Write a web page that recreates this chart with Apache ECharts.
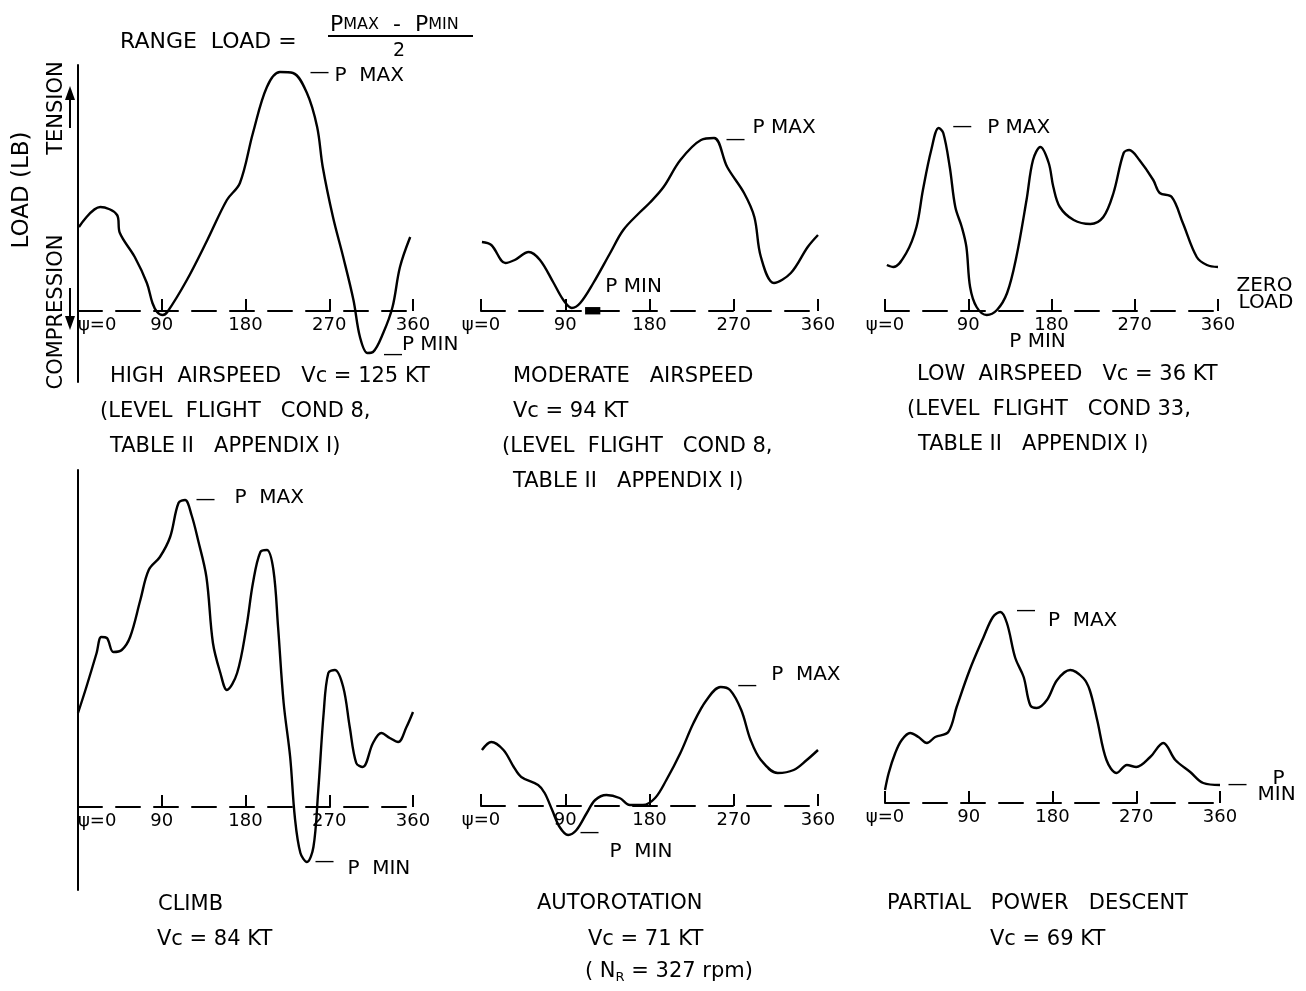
<!DOCTYPE html>
<html>
<head>
<meta charset="utf-8">
<script src="https://cdn.jsdelivr.net/npm/echarts@6/dist/echarts.min.js"></script>
<style>
html,body{margin:0;padding:0;background:#fff;}
#c{width:1306px;height:991px;}
</style>
</head>
<body>
<div id="c"></div>
<script>
// ---- data: azimuth angle psi (deg) and load (arbitrary units) ----
const tickLabels = ['ψ=0', '90', '180', '270', '360'];

const angHigh = [1,24,42,45,61,74,80,85,91,96,117,139,160,174,188,203,217,231,246,257,263,274,285,296,303,311,317,328,338,346,357];
const loadHigh = [84,104,96,78,54,28,8,-1,-4,-1,31,71,111,128,178,224,239,238,218,184,144,94,54,11,-26,-42,-41,-22,4,44,74];

const angMod = [1,11,26,36,51,63,77,88,97,106,120,138,152,170,180,195,213,235,249,263,281,292,299,313,331,349,360];
const loadMod = [69,66,48,51,59,51,29,11,3,8,28,58,81,99,108,124,151,171,173,144,118,94,54,28,38,64,76];

const angLow = [2,9,23,34,41,50,58,63,70,76,83,88,92,99,110,121,132,142,153,160,168,177,182,189,204,222,236,247,258,264,275,290,297,310,322,337,348,360];
const loadLow = [46,44,58,84,121,161,183,178,144,104,84,64,24,4,-4,1,18,54,111,151,164,148,124,104,91,87,94,118,158,161,151,131,118,114,88,54,46,44];

const angClimb = [0,9,20,25,31,38,47,56,67,76,88,99,108,115,122,129,138,145,153,160,171,181,188,196,203,210,215,221,228,233,239,246,253,258,264,269,276,285,292,299,306,317,326,335,344,353,360];
const loadClimb = [94,120,154,170,169,155,157,170,207,237,250,270,304,307,292,267,230,164,134,117,134,180,224,255,257,237,180,104,50,-10,-46,-55,-40,14,94,134,137,120,80,44,40,64,74,69,65,80,95];

const angAuto = [1,11,24,35,43,61,68,76,84,93,102,113,122,134,148,159,173,186,198,213,227,241,256,266,278,288,299,317,334,348,360];
const loadAuto = [56,64,56,39,29,21,13,-4,-21,-29,-24,-7,6,11,8,1,1,8,26,53,83,106,119,116,96,66,46,33,36,46,56];

const angDesc = [0,4,11,18,27,36,45,54,68,77,91,106,116,124,131,140,149,156,163,174,185,199,213,220,228,238,249,260,270,285,299,312,328,342,360];
const loadDesc = [13,30,50,63,70,66,60,66,71,96,133,166,186,191,180,145,126,98,95,103,123,133,125,113,83,43,30,38,36,46,60,43,31,20,18];

// ---- layout ----
const FONT = 'DejaVu Sans';
const panels = [
  {ang: angHigh, load: loadHigh, left: 78, width: 335, top: 65, height: 317, min: -71, max: 246, yLine: true,
   notes: [['max','—',30,1],['max','P  MAX',55,4],['min','—',16,2],['min','P MIN',35,-8]]},
  {ang: angMod, load: loadMod, left: 481, width: 337, top: 65, height: 317, min: -71, max: 246, yLine: false,
   notes: [['max','—',12,2],['max','P MAX',39,-10],['min','▬',12,3],['min','P MIN',34,-21]]},
  {ang: angLow, load: loadLow, left: 885, width: 333, top: 65, height: 317, min: -71, max: 246, yLine: false,
   notes: [['max','—',14,-1],['max','P MAX',49,0],['min','P MIN',23,27],['zero','ZERO',19,-25],['zero','LOAD',21,-8]]},
  {ang: angClimb, load: loadClimb, left: 78, width: 335, top: 470, height: 420, min: -83, max: 337, yLine: true,
   notes: [['max','—',11,0],['max','P  MAX',50,-2],['min','—',8,0],['min','P  MIN',41,7]]},
  {ang: angAuto, load: loadAuto, left: 481, width: 337, top: 470, height: 420, min: -84, max: 336, yLine: false,
   notes: [['max','—',17,-1],['max','P  MAX',51,-12],['min','—',12,-2],['min','P  MIN',42,17]]},
  {ang: angDesc, load: loadDesc, left: 885, width: 335, top: 470, height: 420, min: -87, max: 333, yLine: false,
   notes: [['max','—',16,-1],['max','P  MAX',48,9],['last','—',8,0],['last','P',53,-6],['last','MIN',38,10]]}
];

function refCoord(p, which) {
  if (which === 'zero') return [360, 0];
  let idx;
  if (which === 'max') idx = p.load.indexOf(Math.max.apply(null, p.load));
  else if (which === 'min') idx = p.load.indexOf(Math.min.apply(null, p.load));
  else idx = p.load.length - 1;
  return [p.ang[idx], p.load[idx]];
}

const grids = [], xAxes = [], yAxes = [], series = [];
panels.forEach((p, i) => {
  grids.push({left: p.left, top: p.top, width: p.width, height: p.height, containLabel: false, outerBoundsMode: 'none'});
  // place the x axis on the zero-load line (offset from grid bottom, inward)
  const zeroOffset = p.min * p.height / (p.max - p.min);
  xAxes.push({
    gridIndex: i, type: 'value', min: 0, max: 360, interval: 90,
    position: 'bottom', offset: zeroOffset,
    axisLine: {show: true, onZero: false, lineStyle: {color: '#000', width: 2, type: [24, 14]}},
    axisTick: {show: true, inside: true, length: 12, lineStyle: {color: '#000', width: 2}},
    axisLabel: {show: true, color: '#000', fontFamily: FONT, fontSize: 18, margin: 5,
      alignMinLabel: p.yLine ? 'left' : 'center',
      formatter: v => tickLabels[Math.round(v / 90)]},
    splitLine: {show: false}
  });
  yAxes.push({
    gridIndex: i, type: 'value', min: p.min, max: p.max,
    axisLine: {show: p.yLine, onZero: false, lineStyle: {color: '#000', width: 2}},
    axisTick: {show: false}, axisLabel: {show: false}, splitLine: {show: false}
  });
  series.push({
    type: 'line', xAxisIndex: i, yAxisIndex: i,
    data: p.ang.map((a, k) => [a, p.load[k]]),
    smooth: 0.35, showSymbol: false, animation: false, silent: true,
    lineStyle: {color: '#000', width: 2.4},
    markPoint: {
      silent: true, animation: false,
      data: p.notes.map(n => ({
        coord: refCoord(p, n[0]),
        symbol: 'rect', symbolSize: 1, itemStyle: {color: 'rgba(0,0,0,0)'},
        label: {show: true, formatter: n[1], position: [n[2], n[3]], align: 'left', verticalAlign: 'middle',
          color: '#000', fontFamily: FONT, fontSize: 20}
      }))
    }
  });
});

// ---- text & decorations ----
function txt(x, y, text, size) {
  return {type: 'text', x: x, y: y, silent: true,
    style: {text: text, fill: '#000', fontFamily: FONT, fontSize: size,
      textAlign: 'left', textVerticalAlign: 'middle', align: 'left', verticalAlign: 'middle'}};
}
function vtxt(x, y, text, size) {
  return {type: 'text', x: x, y: y, rotation: Math.PI / 2, silent: true,
    style: {text: text, fill: '#000', fontFamily: FONT, fontSize: size,
      textAlign: 'center', textVerticalAlign: 'middle', align: 'center', verticalAlign: 'middle'}};
}

const captions = [
  [110, 377, 'HIGH  AIRSPEED   Vc = 125 KT'],
  [100, 412, '(LEVEL  FLIGHT   COND 8,'],
  [110, 447, 'TABLE II   APPENDIX I)'],
  [513, 377, 'MODERATE   AIRSPEED'],
  [513, 412, 'Vc = 94 KT'],
  [502, 447, '(LEVEL  FLIGHT   COND 8,'],
  [513, 482, 'TABLE II   APPENDIX I)'],
  [917, 375, 'LOW  AIRSPEED   Vc = 36 KT'],
  [907, 410, '(LEVEL  FLIGHT   COND 33,'],
  [918, 445, 'TABLE II   APPENDIX I)'],
  [158, 905, 'CLIMB'],
  [157, 940, 'Vc = 84 KT'],
  [537, 904, 'AUTOROTATION'],
  [588, 940, 'Vc = 71 KT'],
  [887, 904, 'PARTIAL   POWER   DESCENT'],
  [990, 940, 'Vc = 69 KT']
];

const graphics = captions.map(c => txt(c[0], c[1], c[2], 21));
graphics.push({type: 'text', x: 585, y: 972, silent: true,
  style: {text: '( N{s|R} = 327 rpm)', fill: '#000', fontFamily: FONT, fontSize: 21,
    textAlign: 'left', textVerticalAlign: 'middle', align: 'left', verticalAlign: 'middle',
    rich: {s: {fontSize: 13, fontFamily: FONT, fill: '#000', padding: [12, 0, 0, 0]}}}});

// title: RANGE LOAD = (P MAX - P MIN) / 2
graphics.push(txt(120, 42, 'RANGE  LOAD =', 22));
graphics.push({type: 'text', x: 330, y: 25, silent: true,
  style: {text: 'P{s|MAX}  -  P{s|MIN}', fill: '#000', fontFamily: FONT, fontSize: 22,
    textAlign: 'left', textVerticalAlign: 'middle', align: 'left', verticalAlign: 'middle',
    rich: {s: {fontSize: 16, fontFamily: FONT, fill: '#000'}}}});
graphics.push({type: 'line', silent: true, shape: {x1: 328, y1: 36, x2: 473, y2: 36}, style: {stroke: '#000', lineWidth: 2}});
graphics.push(txt(393, 51, '2', 19));

// y-axis titles
graphics.push(vtxt(22, 190, 'LOAD (LB)', 23));
graphics.push(vtxt(57, 108, 'TENSION', 21));
graphics.push(vtxt(57, 312, 'COMPRESSION', 21));
// arrows
graphics.push({type: 'line', silent: true, shape: {x1: 70, y1: 128, x2: 70, y2: 96}, style: {stroke: '#000', lineWidth: 2}});
graphics.push({type: 'polygon', silent: true, shape: {points: [[65, 100], [75, 100], [70, 86]]}, style: {fill: '#000'}});
graphics.push({type: 'line', silent: true, shape: {x1: 70, y1: 288, x2: 70, y2: 320}, style: {stroke: '#000', lineWidth: 2}});
graphics.push({type: 'polygon', silent: true, shape: {points: [[65, 316], [75, 316], [70, 330]]}, style: {fill: '#000'}});

const chart = echarts.init(document.getElementById('c'), null, {renderer: 'canvas'});
chart.setOption({
  backgroundColor: '#fff',
  animation: false,
  grid: grids,
  xAxis: xAxes,
  yAxis: yAxes,
  series: series,
  graphic: graphics
});
</script>
</body>
</html>
